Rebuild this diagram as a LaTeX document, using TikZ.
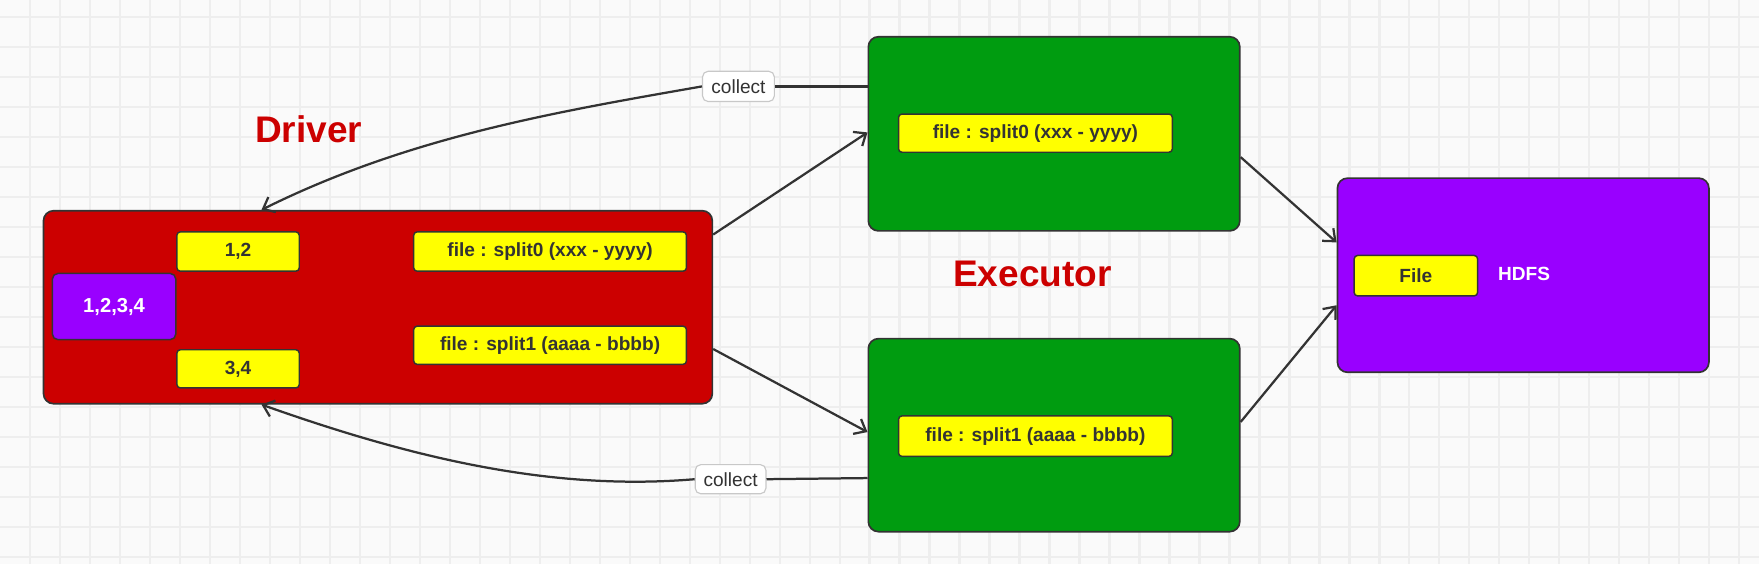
\documentclass[tikz,border=0pt]{standalone}
\usepackage{fontspec}
\setmainfont{Liberation Sans}
\usetikzlibrary{arrows.meta,calc}
\definecolor{bgc}{HTML}{FAFAFA}
\definecolor{gridc}{HTML}{EEEEEE}
\definecolor{drvred}{HTML}{CC0000}
\definecolor{exgreen}{HTML}{009C10}
\definecolor{purp}{HTML}{9900FF}
\definecolor{yel}{HTML}{FFFF00}
\definecolor{ink}{HTML}{333333}
\definecolor{lblgray}{HTML}{C8C8C8}
\begin{document}
\begin{tikzpicture}[x=1pt,y=-1pt,
  bigbox/.style={draw=ink, line width=1.5pt, rounded corners=9pt, anchor=north west, inner sep=0pt},
  ybox/.style={draw=ink, line width=1.3pt, rounded corners=3pt, fill=yel, anchor=north west, inner sep=0pt, text=ink, font=\fontsize{17}{20}\selectfont\bfseries},
  pbox/.style={draw=ink, line width=1.3pt, rounded corners=5pt, fill=purp, anchor=north west, inner sep=0pt, text=white, font=\fontsize{18}{20}\selectfont\bfseries},
  titletext/.style={text=drvred, font=\fontsize{33}{38}\selectfont\bfseries},
  conn/.style={draw=ink, line width=2pt, -{Straight Barb[length=9pt,width=15pt]}},
  plainconn/.style={draw=ink, line width=2pt},
  lbl/.style={draw=lblgray, fill=white, rounded corners=5pt, line width=1pt, inner sep=0pt, minimum width=64pt, minimum height=27pt, text=ink, font=\fontsize{17}{20}\selectfont},
]
\useasboundingbox (0,0) rectangle (1567.4,502.4);
\fill[bgc] (0,0) rectangle (1567.4,502.4);
\foreach \i in {1,...,58} \draw[gridc, line width=2pt] ({\i*26.72},0) -- ({\i*26.72},502.4);
\foreach \j in {0,...,18} \draw[gridc, line width=2pt] (0,{15.1+\j*26.72}) -- (1567.4,{15.1+\j*26.72});

% Driver
\node[bigbox, fill=drvred, minimum width=596pt, minimum height=172pt] (drv) at (38,187) {};
\node[ybox, minimum width=109pt, minimum height=35pt] (d12) at (157,206) {1,2};
\node[ybox, minimum width=109pt, minimum height=34pt] (d34) at (157,311) {3,4};
\node[pbox, minimum width=110pt, minimum height=59pt] (d1234) at (46,243) {1,2,3,4};
\node[ybox, minimum width=243pt, minimum height=35pt] (ds0) at (368,206) {file : split0 (xxx - yyyy)};
\node[ybox, minimum width=243pt, minimum height=34pt] (ds1) at (368,290) {file : split1 (aaaa - bbbb)};
\node[titletext] (drvtitle) at (275,115) {Driver};

% Executors
\node[bigbox, fill=exgreen, minimum width=331pt, minimum height=173pt] (gtop) at (773,32) {};
\node[ybox, minimum width=244pt, minimum height=34pt] (es0) at (800,101) {file : split0 (xxx - yyyy)};
\node[bigbox, fill=exgreen, minimum width=331pt, minimum height=172pt] (gbot) at (773,301) {};
\node[ybox, minimum width=244pt, minimum height=36pt] (es1) at (800,370) {file : split1 (aaaa - bbbb)};
\node[titletext] (extitle) at (920,244) {Executor};

% HDFS
\node[bigbox, fill=purp, minimum width=331pt, minimum height=173pt] (hdfs) at (1191,158) {};
\node[ybox, minimum width=110pt, minimum height=36pt] (hfile) at (1206,227) {File};
\node[text=white, font=\fontsize{17}{20}\selectfont\bfseries] (hdfstext) at (1358,244) {HDFS};

% connectors
\draw[conn] (drv.east |- 0,209) -- (gtop.west |- 0,118);
\draw[conn] (drv.east |- 0,311) -- (gbot.west |- 0,385);
\draw[conn] (gtop.east |- 0,140) -- (hdfs.west |- 0,216);
\draw[conn] (gbot.east |- 0,376) -- (hdfs.west |- 0,272);

\node[lbl] (c1) at (658,77) {collect};
\node[lbl, minimum width=63pt, minimum height=26pt] (c2) at (651,427) {collect};
\draw[plainconn] (gtop.west |- 0,77) -- (c1.east);
\draw[conn] (c1.west) .. controls (494,100) and (364,122) .. (drv.north -| 233,0);
\draw[plainconn] (gbot.west |- 0,426) -- (c2.east);
\draw[conn] (c2.west) .. controls (490,438) and (364,407) .. (drv.south -| 233,0);
\end{tikzpicture}
\end{document}
